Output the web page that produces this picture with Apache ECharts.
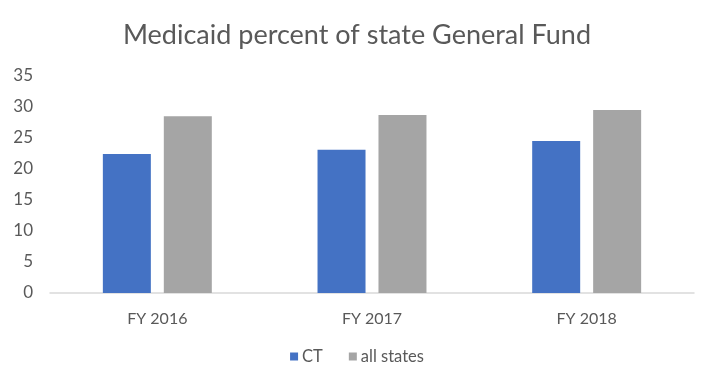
<!DOCTYPE html>
<html><head><meta charset="utf-8">
<script src="https://cdn.jsdelivr.net/npm/echarts@6/dist/echarts.min.js"></script>
<style>html,body{margin:0;padding:0;background:#fff}#c{width:714px;height:389px}</style>
</head><body><div id="c"></div>
<script>
const categories = ['FY 2016', 'FY 2017', 'FY 2018'];
const ctValues = [22.4, 23.1, 24.5];
const allStatesValues = [28.5, 28.7, 29.5];
const seriesNames = ['CT', 'all states'];
const yTicks = { min: 0, max: 35, interval: 5 };

const chart = echarts.init(document.getElementById('c'), null, { renderer: 'canvas' });
const font = 'Lato, "Open Sans", sans-serif';
chart.setOption({
  animation: false,
  title: {
    text: 'Medicaid percent of state General Fund',
    left: 'center', top: 17,
    textStyle: { fontFamily: font, fontSize: 27, fontWeight: 'normal', color: '#595959' }
  },
  legend: {
    data: seriesNames, bottom: 19, left: 'center',
    icon: 'rect', itemWidth: 8, itemHeight: 8, itemGap: 26,
    textStyle: { fontFamily: font, fontSize: 16.5, color: '#595959', padding: [0, 0, 0, -1] }
  },
  grid: { left: 50, right: 20, top: 76, bottom: 96, containLabel: false },
  xAxis: {
    type: 'category', data: categories,
    axisLine: { lineStyle: { color: '#D9D9D9', width: 1.5 } },
    axisTick: { show: false },
    axisLabel: { fontFamily: font, fontSize: 16, color: '#595959', margin: 18 }
  },
  yAxis: {
    type: 'value', min: yTicks.min, max: yTicks.max, interval: yTicks.interval,
    splitLine: { show: false }, axisLine: { show: false }, axisTick: { show: false },
    axisLabel: { fontFamily: font, fontSize: 17, color: '#595959', margin: 17 }
  },
  series: [
    { name: seriesNames[0], type: 'bar', data: ctValues, itemStyle: { color: '#4472C4' },
      barWidth: 48, barGap: '27%' },
    { name: seriesNames[1], type: 'bar', data: allStatesValues, itemStyle: { color: '#A5A5A5' },
      barWidth: 48, barGap: '27%' }
  ]
});
</script></body></html>
